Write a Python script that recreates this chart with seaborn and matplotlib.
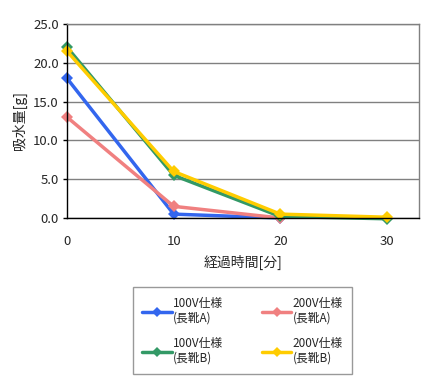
import matplotlib
matplotlib.use("Agg")
import matplotlib.pyplot as plt
import seaborn as sns
import pandas as pd

minutes = [0, 10, 20, 30]
s100a = [18.0, 0.5, 0.0, None]
s200a = [13.0, 1.5, 0.0, None]
s100b = [22.0, 5.5, 0.2, -0.1]
s200b = [21.5, 6.0, 0.5, 0.1]
labels = ["100V仕様\n(長靴A)", "200V仕様\n(長靴A)", "100V仕様\n(長靴B)", "200V仕様\n(長靴B)"]
colors = ["#3366ee", "#f08080", "#339966", "#ffcc00"]

rows = []
for lab, vals in zip(labels, [s100a, s200a, s100b, s200b]):
    for m, v in zip(minutes, vals):
        if v is not None:
            rows.append({"t": m, "v": v, "s": lab})
df = pd.DataFrame(rows)

sns.set_style("white")
plt.rcParams['font.family'] = ['Noto Sans CJK JP', 'DejaVu Sans']

fig = plt.figure(figsize=(4.28, 3.91), dpi=100)
ax = fig.add_axes([67/428, 1-218/391, (419-67)/428, (218-24)/391])
sns.lineplot(data=df, x="t", y="v", hue="s", hue_order=labels, palette=colors,
             marker="D", markersize=6, markeredgewidth=0, linewidth=2.5, ax=ax, legend=False)
for ln in ax.get_lines():
    ln.set_clip_on(False)
ax.set_xlim(0, 33)
ax.set_ylim(0, 25)
ax.set_xticks([0, 10, 20, 30])
ax.set_yticks([0, 5, 10, 15, 20, 25])
ax.set_yticklabels([f"{v:.1f}" for v in [0, 5, 10, 15, 20, 25]])
ax.yaxis.grid(True, color="#808080", linewidth=1)
ax.set_axisbelow(True)
for s in ["top", "right"]:
    ax.spines[s].set_color("#808080")
    ax.spines[s].set_linewidth(1)
for s in ["left", "bottom"]:
    ax.spines[s].set_color("black")
    ax.spines[s].set_linewidth(1)
ax.tick_params(axis="y", left=True, length=3, width=1, color="black", labelsize=9.5, pad=3)
ax.tick_params(axis="x", bottom=False, labelsize=9.5, pad=9)
ax.set_xlabel("経過時間[分]", fontsize=10, labelpad=5)
ax.set_ylabel("吸水量[g]", fontsize=10, labelpad=4)

from matplotlib.lines import Line2D
handles = [Line2D([0], [0], color=c, lw=2.5, marker="D", markersize=5, markeredgewidth=0) for c in colors]
order = [0, 2, 1, 3]
leg = fig.legend([handles[i] for i in order], [labels[i] for i in order], loc="lower left",
                 bbox_to_anchor=(127/428, 1-380/391, (358-127)/428, (380-288)/391),
                 mode="expand", ncol=2, fontsize=8.5, frameon=True, fancybox=False,
                 edgecolor="#808080", handlelength=2.5, handletextpad=0.1,
                 labelspacing=1.0, borderpad=0.8, columnspacing=1.0)
leg.get_frame().set_linewidth(1)
fig.savefig("out.png", dpi=100)
